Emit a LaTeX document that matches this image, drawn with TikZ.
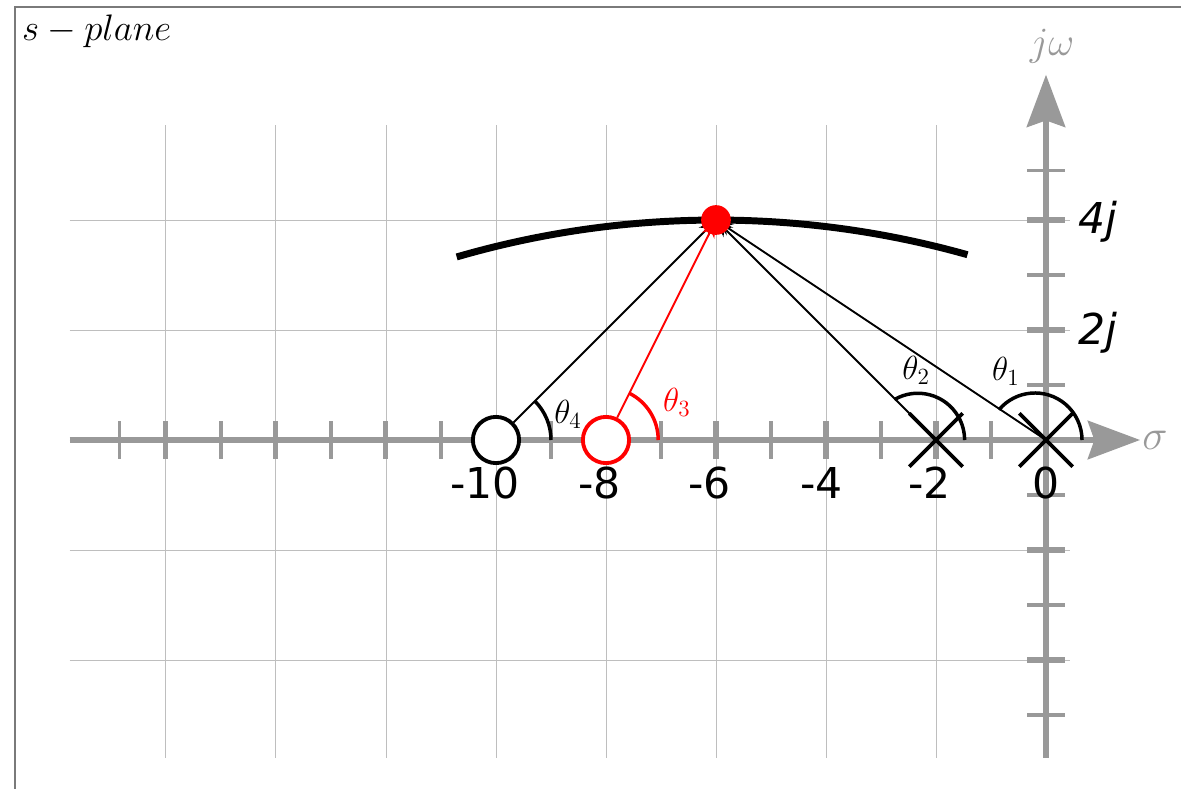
\documentclass[tikz,border=0pt]{standalone}
\usepackage{fontspec}
\newfontfamily\dejavu{DejaVu Sans}
\usetikzlibrary{arrows.meta,shapes.misc}
\definecolor{axisgray}{HTML}{999999}
\definecolor{gridgray}{HTML}{BEBEBE}
\definecolor{framegray}{HTML}{7A7A7A}
\definecolor{myred}{HTML}{FF0000}
\begin{document}
\begin{tikzpicture}[x=1cm,y=1cm,
  gridline/.style={gridgray, line width=0.5pt},
  axisline/.style={axisgray, line width=2.6pt, -{Stealth[length=0.95cm,width=0.7cm,inset=0.12cm]}},
  majtick/.style={axisgray, line width=2.6pt},
  mintick/.style={axisgray, line width=1.6pt},
  zero/.style={circle, draw, fill=white, line width=2pt, minimum size=0.84cm, inner sep=0pt},
  pole/.style={cross out, draw, line width=2pt, minimum size=0.9cm, inner sep=0pt},
  ray/.style={line width=1pt, -{Stealth[length=9pt,width=7pt]}},
  anglearc/.style={line width=1.8pt},
  numlabel/.style={font=\fontsize{22}{26}\selectfont\dejavu, anchor=base, inner sep=0pt},
  imlabel/.style={font=\fontsize{22}{26}\selectfont\dejavu\itshape, anchor=base west, inner sep=0pt},
  thlabel/.style={font=\fontsize{17.28}{20}\selectfont, inner sep=0pt},
  dot/.style={circle, fill=myred, minimum size=0.54cm, inner sep=0pt}
]
\useasboundingbox (-19.018,-6.345) rectangle (2.4545,8.0);
% frame
\draw[framegray, line width=0.55pt] (-18.745,-6.345) -- (-18.745,7.873) -- (2.4545,7.873);
% grid
\draw[gridline, step=2] (-17.75,-5.78) grid (0.44,5.73);
% axes
\draw[axisline] (-17.75,0) -- (1.71,0);
\draw[axisline] (0,-5.78) -- (0,6.64);
% real-axis ticks
\foreach \x in {-16,-14,...,-2} \draw[majtick] (\x,-0.34) -- (\x,0.34);
\foreach \x in {-16.85,-15,-13,-11,-9,-7,-5,-3,-1} \draw[mintick] (\x,-0.34) -- (\x,0.34);
% imaginary-axis ticks
\foreach \y in {-4,-2,2,4} \draw[majtick] (-0.34,\y) -- (0.34,\y);
\foreach \y in {-5,-3,-1,1,3,4.9} \draw[mintick] (-0.34,\y) -- (0.34,\y);
% root locus branch
\draw[line width=3.6pt] (-6,-12.9) ++(106.2:16.9) arc (106.2:74.3:16.9);
% points
\coordinate (s) at (-6,4);
\node[zero] (z10) at (-10,0) {};
\node[zero, draw=myred] (z8) at (-8,0) {};
\node[pole] (p2) at (-2,0) {};
\node[pole] (p0) at (0,0) {};
% rays
\draw[ray] (z10) -- (s);
\draw[ray] (p2.center) -- (s);
\draw[ray] (p0.center) -- (s);
\draw[ray, myred] (z8) -- (s);
% angle arcs
\draw[anglearc] (-10,0) ++(45:1) arc (45:0:1);
\draw[anglearc, myred] (-8,0) ++(63.4:0.95) arc (63.4:0:0.95);
\draw[anglearc] (-2.33,0) ++(120:0.85) arc (120:0:0.85);
\draw[anglearc] (-0.2,0) ++(140:0.855) arc (140:0:0.855);
% test point
\node[dot] (sdot) at (s) {};
% labels
\node[anchor=base west, inner sep=0pt, font=\fontsize{20.74}{24}\selectfont, scale=0.92] (title) at (-18.62,7.255) {$s-plane$};
\node[text=axisgray, font=\fontsize{20.74}{25}\selectfont] (jw) at (0.11,7.15) {$j\omega$};
\node[text=axisgray, font=\fontsize{20.74}{26}\selectfont, scale=1.06] (sig) at (1.98,0) {$\sigma$};
\node[imlabel] (l4j) at (0.58,3.76) {4j};
\node[imlabel] (l2j) at (0.58,1.73) {2j};
\node[numlabel] (n10) at (-10.2,-1.07) {-10};
\node[numlabel] (n8) at (-8.12,-1.07) {-8};
\node[numlabel] (n6) at (-6.12,-1.07) {-6};
\node[numlabel] (n4) at (-4.08,-1.07) {-4};
\node[numlabel] (n2) at (-2.12,-1.07) {-2};
\node[numlabel] (n0) at (0,-1.07) {0};
\node[thlabel] (t4) at (-8.69,0.47) {$\theta_4$};
\node[thlabel, text=myred] (t3) at (-6.71,0.69) {$\theta_3$};
\node[thlabel] (t2) at (-2.36,1.27) {$\theta_2$};
\node[thlabel] (t1) at (-0.73,1.24) {$\theta_1$};
\end{tikzpicture}
\end{document}
